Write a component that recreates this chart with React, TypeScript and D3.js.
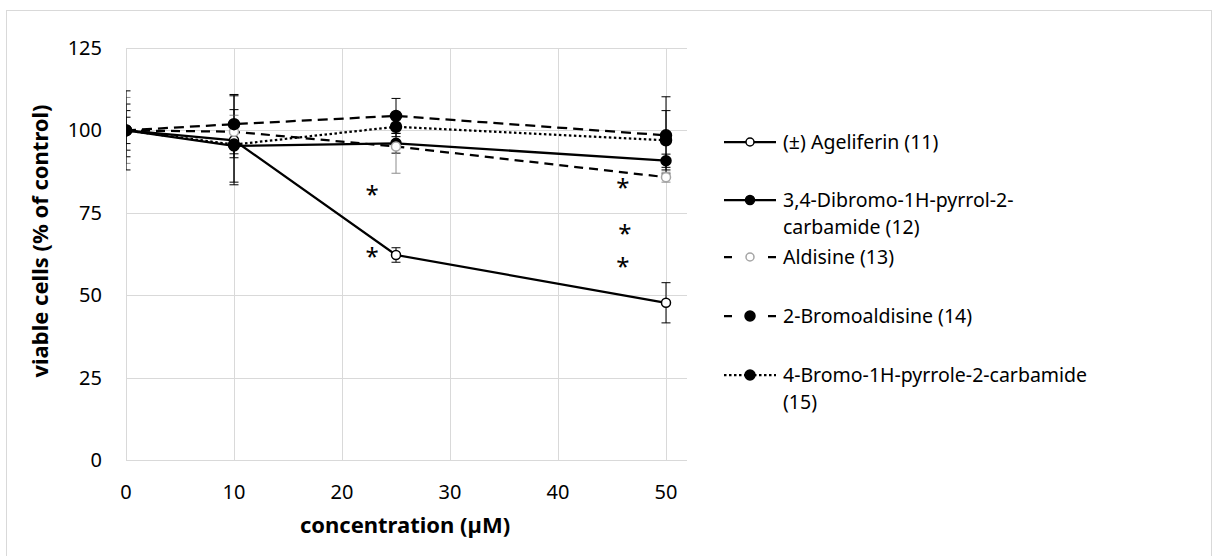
import React, { useEffect, useRef } from 'react';
import * as d3 from 'd3';

// concentrations (µM)
const concentrations = [0, 10, 25, 50];

// viable cells, % of control
const ageliferin = [100, 97, 62.2, 47.7];
const ageliferinErr = [8, 13.5, 2.2, 6.1];
const dibromoPyrrol = [100, 95.3, 96.1, 90.8];
const dibromoPyrrolErr = [6, 11, 3, 2];
const aldisine = [100, 99.6, 95.1, 85.8];
const aldisineErr = [10, 5, 8.1, 1.5];
const bromoAldisine = [100, 101.9, 104.4, 98.5];
const bromoAldisineErr = [12, 9, 5.3, 11.7];
const bromoPyrrole = [100, 95.7, 101.1, 97.0];
const bromoPyrroleErr = [4, 4, 3, 9];

const seriesNames = [
  ['(±) Ageliferin (11)'],
  ['3,4-Dibromo-1H-pyrrol-2-', 'carbamide (12)'],
  ['Aldisine (13)'],
  ['2-Bromoaldisine (14)'],
  ['4-Bromo-1H-pyrrole-2-carbamide', '(15)'],
];

// significance marks [concentration, value]
const asterisks = [
  [22.8, 82],
  [22.8, 63],
  [46, 84.1],
  [46.2, 70],
  [46, 60.2],
];

const xTicks = [0, 10, 20, 30, 40, 50];
const yTicks = [0, 25, 50, 75, 100, 125];

const App = () => {
  const ref = useRef(null);

  useEffect(() => {
    const width = 1216;
    const height = 556;
    const font = '"Noto Sans", "Open Sans", sans-serif';
    const grid = '#d9d9d9';

    d3.select(ref.current).select('svg').remove();

    const svg = d3
      .select(ref.current)
      .append('svg')
      .attr('width', width)
      .attr('height', height)
      .style('display', 'block')
      .style('font-family', font);

    svg.append('rect').attr('width', width).attr('height', height).attr('fill', '#fff');

    // chart frame
    svg
      .append('rect')
      .attr('x', 6.5)
      .attr('y', 10.5)
      .attr('width', 1205)
      .attr('height', 560)
      .attr('fill', 'none')
      .attr('stroke', grid);

    const x = d3.scaleLinear().domain([0, 50]).range([126, 666]);
    const y = d3.scaleLinear().domain([0, 125]).range([460, 48]);
    const plotRight = 687;

    svg
      .append('defs')
      .append('clipPath')
      .attr('id', 'plot')
      .append('rect')
      .attr('x', x(0))
      .attr('y', 0)
      .attr('width', plotRight - x(0))
      .attr('height', y(0));

    // gridlines
    svg
      .selectAll('.hgrid')
      .data(yTicks)
      .enter()
      .append('line')
      .attr('x1', x(0))
      .attr('x2', plotRight)
      .attr('y1', (d) => Math.round(y(d)) + 0.5)
      .attr('y2', (d) => Math.round(y(d)) + 0.5)
      .attr('stroke', grid);

    svg
      .selectAll('.vgrid')
      .data(xTicks)
      .enter()
      .append('line')
      .attr('x1', (d) => Math.round(x(d)) + 0.5)
      .attr('x2', (d) => Math.round(x(d)) + 0.5)
      .attr('y1', y(125))
      .attr('y2', y(0))
      .attr('stroke', grid);

    // tick labels
    svg
      .selectAll('.ylab')
      .data(yTicks)
      .enter()
      .append('text')
      .attr('x', 102)
      .attr('y', (d) => y(d))
      .attr('dy', '0.35em')
      .attr('text-anchor', 'end')
      .attr('font-size', 20)
      .attr('fill', '#000')
      .text((d) => d);

    svg
      .selectAll('.xlab')
      .data(xTicks)
      .enter()
      .append('text')
      .attr('x', (d) => x(d))
      .attr('y', 492)
      .attr('dy', '0.35em')
      .attr('text-anchor', 'middle')
      .attr('font-size', 20)
      .attr('fill', '#000')
      .text((d) => d);

    // axis titles
    svg
      .append('text')
      .attr('x', 405)
      .attr('y', 525)
      .attr('dy', '0.35em')
      .attr('text-anchor', 'middle')
      .attr('font-size', 22)
      .attr('font-weight', 'bold')
      .text('concentration (µM)');

    svg
      .append('text')
      .attr('transform', 'translate(40, 241) rotate(-90)')
      .attr('dy', '0.35em')
      .attr('text-anchor', 'middle')
      .attr('font-size', 22)
      .attr('font-weight', 'bold')
      .text('viable cells (% of control)');

    const series = [
      { values: ageliferin, err: ageliferinErr, dash: null, fill: '#fff', stroke: '#000', errColor: '#000', r: 4.5, legendDash: null },
      { values: dibromoPyrrol, err: dibromoPyrrolErr, dash: null, fill: '#000', stroke: '#000', errColor: '#000', r: 5, legendDash: null },
      { values: aldisine, err: aldisineErr, dash: '9,6', fill: '#fff', stroke: '#a6a6a6', errColor: '#8c8c8c', r: 4.5, legendDash: '8,36' },
      { values: bromoAldisine, err: bromoAldisineErr, dash: '10,6', fill: '#000', stroke: '#000', errColor: '#000', r: 5.5, legendDash: '8,36' },
      { values: bromoPyrrole, err: bromoPyrroleErr, dash: '2.5,2.5', fill: '#000', stroke: '#000', errColor: '#000', r: 5.5, legendDash: '2.5,2.5' },
    ];

    const plot = svg.append('g').attr('clip-path', 'url(#plot)');

    const line = d3
      .line()
      .x((d) => x(d[0]))
      .y((d) => y(d[1]));

    series.forEach((s) => {
      const pts = concentrations.map((c, i) => [c, s.values[i], s.err[i]]);
      const g = plot.append('g');

      // error bars
      const eb = g.selectAll('.eb').data(pts).enter().append('g');
      eb.append('line')
        .attr('x1', (d) => x(d[0]))
        .attr('x2', (d) => x(d[0]))
        .attr('y1', (d) => y(d[1] + d[2]))
        .attr('y2', (d) => y(d[1] - d[2]))
        .attr('stroke', s.errColor)
        .attr('stroke-width', 1);
      [1, -1].forEach((sign) => {
        eb.append('line')
          .attr('x1', (d) => x(d[0]) - 4.5)
          .attr('x2', (d) => x(d[0]) + 4.5)
          .attr('y1', (d) => y(d[1] + sign * d[2]))
          .attr('y2', (d) => y(d[1] + sign * d[2]))
          .attr('stroke', s.errColor)
          .attr('stroke-width', 1);
      });

      g.append('path')
        .datum(pts)
        .attr('d', line)
        .attr('fill', 'none')
        .attr('stroke', '#000')
        .attr('stroke-width', 2.25)
        .attr('stroke-dasharray', s.dash);
    });

    series.forEach((s) => {
      plot
        .append('g')
        .selectAll('circle')
        .data(concentrations.map((c, i) => [c, s.values[i]]))
        .enter()
        .append('circle')
        .attr('cx', (d) => x(d[0]))
        .attr('cy', (d) => y(d[1]))
        .attr('r', s.r)
        .attr('fill', s.fill)
        .attr('stroke', s.stroke)
        .attr('stroke-width', 1.5);
    });

    // asterisks
    svg
      .selectAll('.ast')
      .data(asterisks)
      .enter()
      .append('text')
      .attr('x', (d) => x(d[0]))
      .attr('y', (d) => y(d[1]))
      .attr('dy', 13)
      .attr('text-anchor', 'middle')
      .attr('font-size', 24)
      .text('*');

    // legend
    const legendY = [142, 200, 257, 316, 375];
    series.forEach((s, i) => {
      const g = svg.append('g').attr('transform', `translate(0, ${legendY[i]})`);
      g.append('line')
        .attr('x1', 724)
        .attr('x2', 776)
        .attr('stroke', '#000')
        .attr('stroke-width', 2.25)
        .attr('stroke-dasharray', s.legendDash);
      g.append('circle')
        .attr('cx', 750)
        .attr('r', s.r - 0.5)
        .attr('fill', s.fill)
        .attr('stroke', s.stroke)
        .attr('stroke-width', 1.5);
      g.selectAll('text')
        .data(seriesNames[i])
        .enter()
        .append('text')
        .attr('x', 783)
        .attr('y', (d, j) => j * 27)
        .attr('dy', '0.35em')
        .attr('font-size', 19.5)
        .text((d) => d);
    });
  }, []);

  return <div ref={ref} style={{ position: 'absolute', left: 0, top: 0 }}></div>;
};

export default App;
